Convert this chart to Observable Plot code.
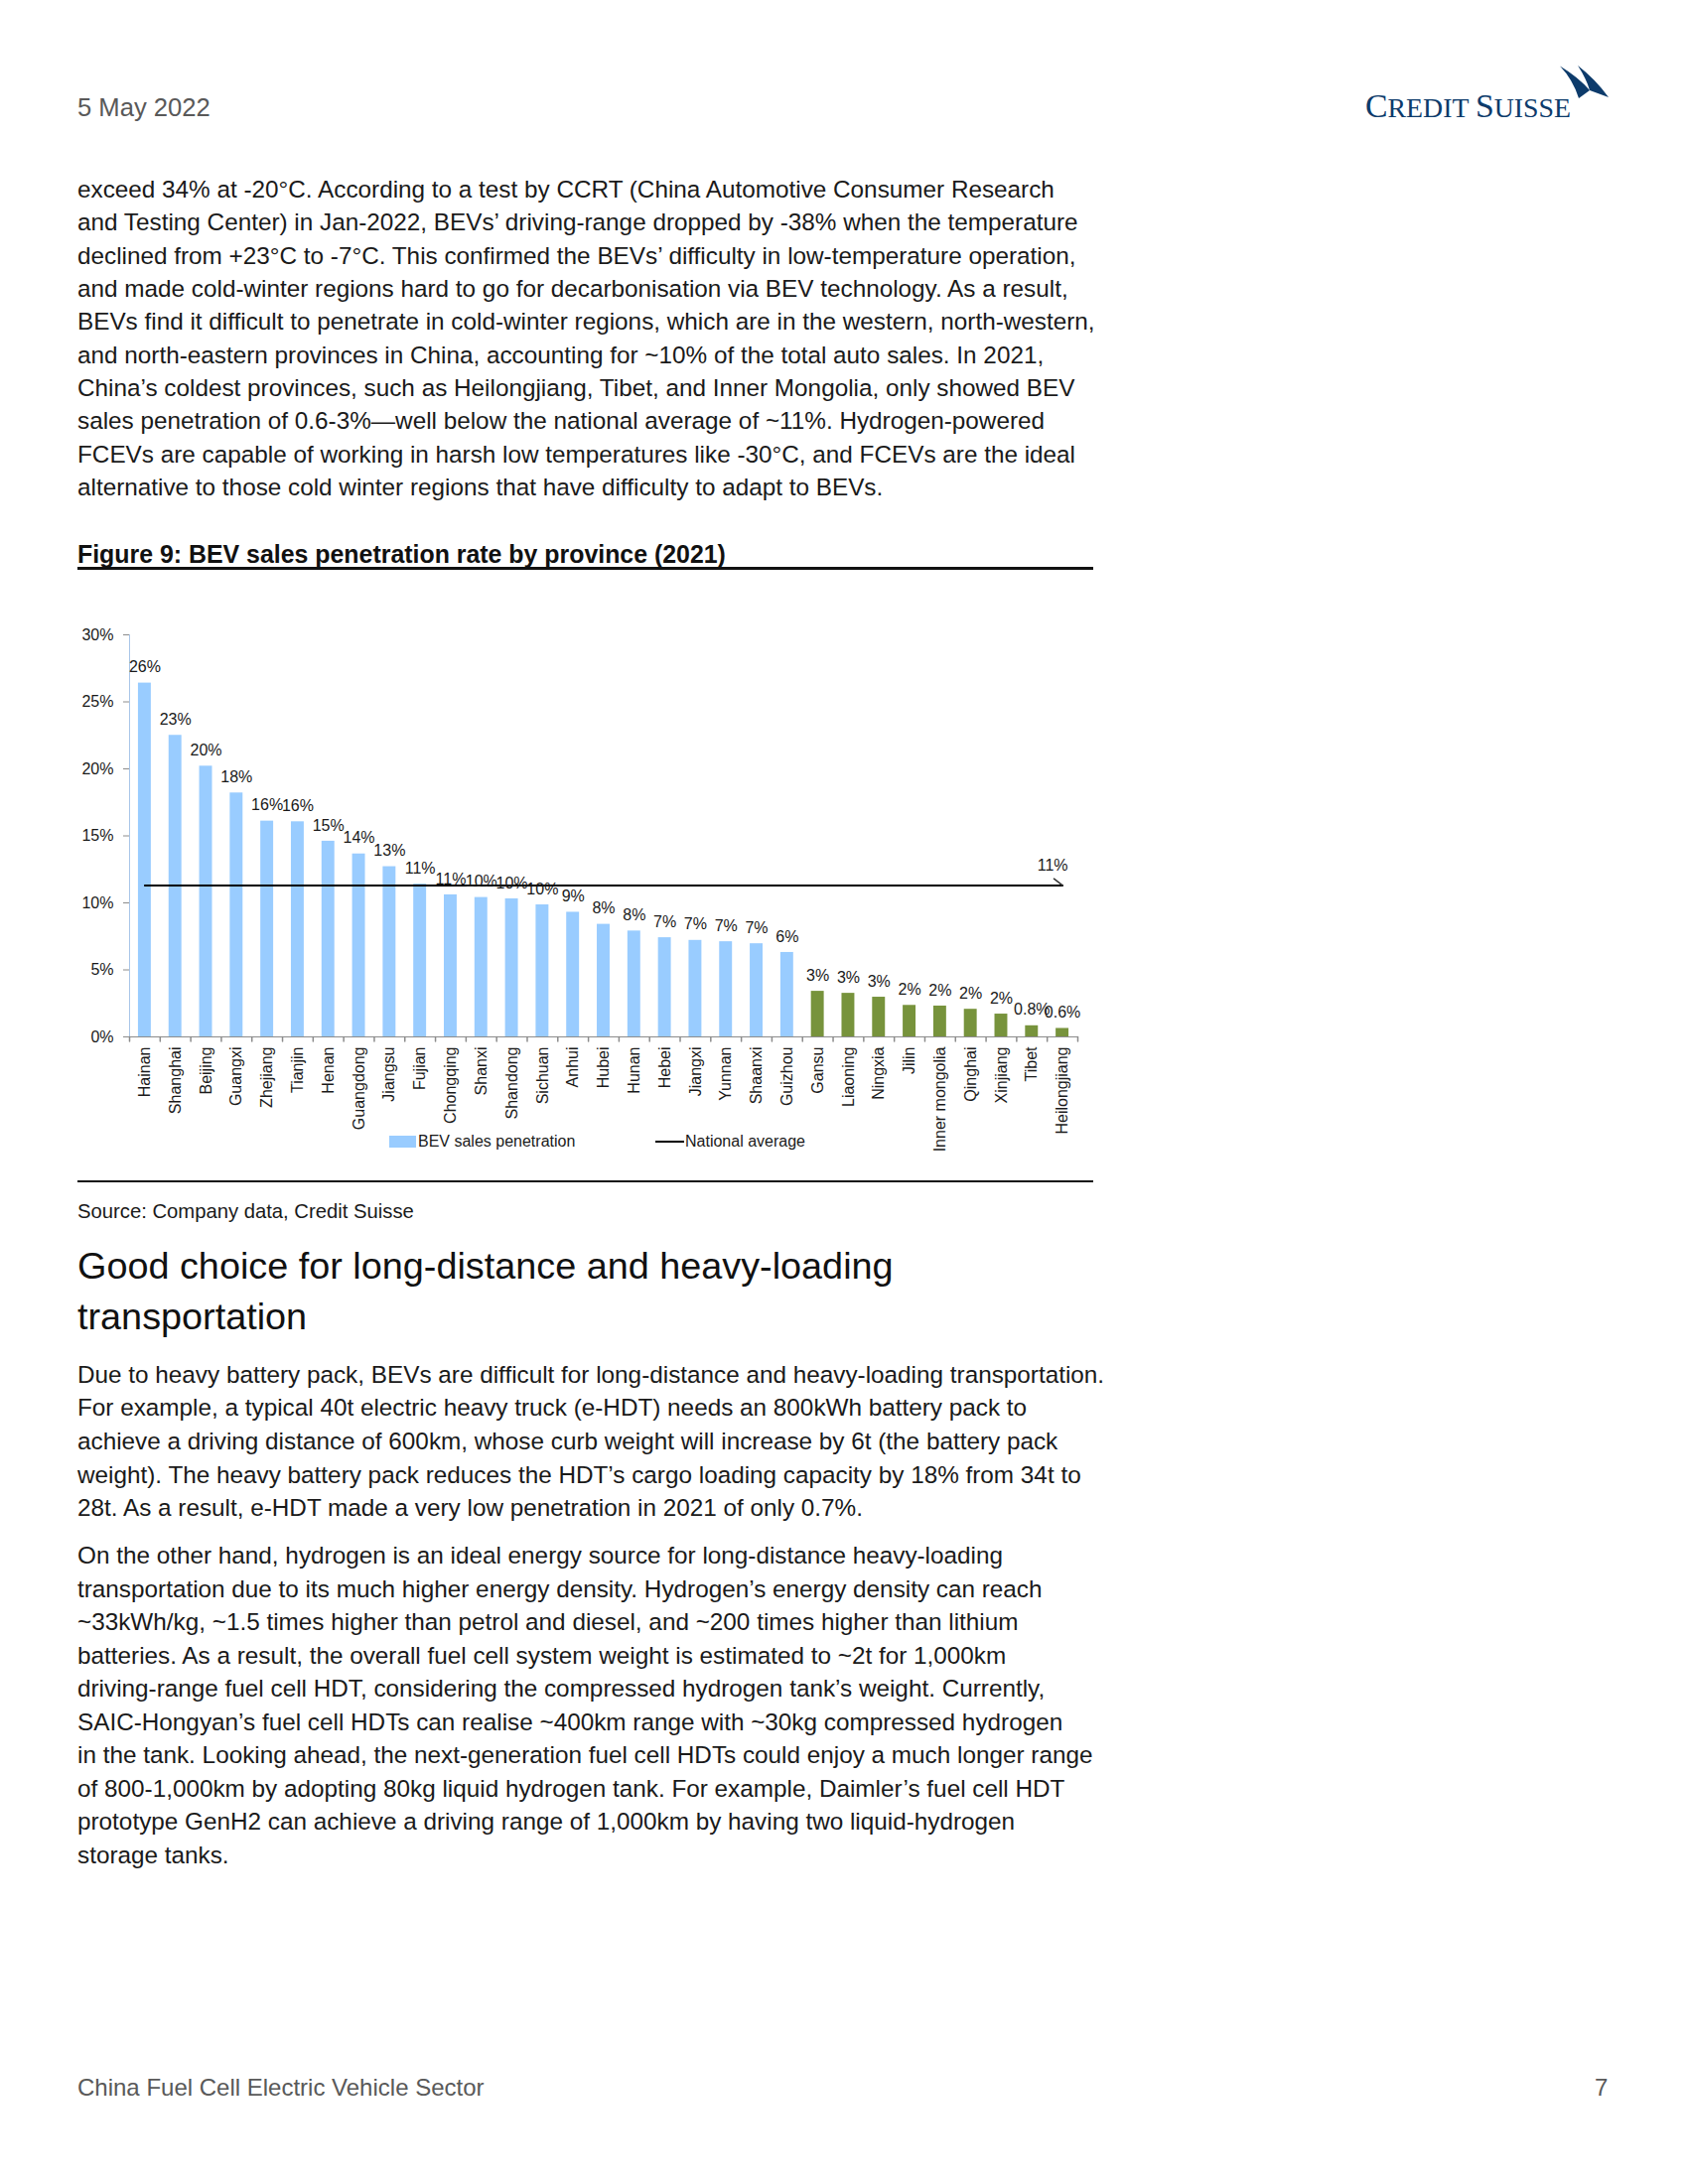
<!DOCTYPE html>
<html><head><meta charset="utf-8">
<script src="https://cdn.jsdelivr.net/npm/d3@7"></script>
<script src="https://cdn.jsdelivr.net/npm/@observablehq/plot@0.6"></script>
<style>
html,body{margin:0;padding:0;background:#fff;}
body{width:1700px;height:2200px;position:relative;font-family:"Liberation Sans",Arial,Helvetica,sans-serif;color:#1a1a1a;overflow:hidden;}
.abs{position:absolute;white-space:nowrap;}
.para{position:absolute;left:78px;font-size:24.3px;line-height:33.5px;white-space:nowrap;color:#1a1a1a;}
</style></head><body>

<div class="abs" style="left:78px;top:93px;font-size:25.6px;line-height:30px;color:#595959;">5 May 2022</div>

<svg class="abs" style="left:1360px;top:55px" width="290" height="80" viewBox="1360 55 290 80">
  <path d="M1571,66.5 Q1590,78 1601,91 L1590,99 Q1584,80 1571,66.5 Z" fill="#0d3b6b"/>
  <path d="M1589,66 Q1607,80 1620,98 L1601,91 Q1598,80 1589,66 Z" fill="#0d3b6b"/>
  <text x="1375" y="118.3" fill="#0d3b6b" font-family="Liberation Serif, DejaVu Serif, serif" textLength="207" lengthAdjust="spacingAndGlyphs"><tspan font-size="34">C</tspan><tspan font-size="28">REDIT </tspan><tspan font-size="34">S</tspan><tspan font-size="28">UISSE</tspan></text>
</svg>

<div class="para" style="top:174px;line-height:33.35px;">exceed 34% at -20°C. According to a test by CCRT (China Automotive Consumer Research<br>and Testing Center) in Jan-2022, BEVs’ driving-range dropped by -38% when the temperature<br>declined from +23°C to -7°C. This confirmed the BEVs’ difficulty in low-temperature operation,<br>and made cold-winter regions hard to go for decarbonisation via BEV technology. As a result,<br>BEVs find it difficult to penetrate in cold-winter regions, which are in the western, north-western,<br>and north-eastern provinces in China, accounting for ~10% of the total auto sales. In 2021,<br>China’s coldest provinces, such as Heilongjiang, Tibet, and Inner Mongolia, only showed BEV<br>sales penetration of 0.6-3%—well below the national average of ~11%. Hydrogen-powered<br>FCEVs are capable of working in harsh low temperatures like -30°C, and FCEVs are the ideal<br>alternative to those cold winter regions that have difficulty to adapt to BEVs.</div>

<div class="abs" style="left:78px;top:543px;font-size:24.9px;line-height:30px;font-weight:bold;color:#111;">Figure 9: BEV sales penetration rate by province (2021)</div>
<div class="abs" style="left:78px;top:571px;width:1023px;height:2.5px;background:#111;"></div>

<div id="chart" class="abs" style="left:60px;top:618px;"></div>

<div class="abs" style="left:392px;top:1144px;width:27px;height:12px;background:#99ccff;"></div>
<div class="abs" style="left:421px;top:1141px;font-size:16px;line-height:18px;color:#1a1a1a;">BEV sales penetration</div>
<div class="abs" style="left:660px;top:1149px;width:29px;height:2px;background:#000;"></div>
<div class="abs" style="left:690px;top:1141px;font-size:16px;line-height:18px;color:#1a1a1a;">National average</div>

<div class="abs" style="left:78px;top:1188.5px;width:1023px;height:2px;background:#111;"></div>
<div class="abs" style="left:78px;top:1205px;font-size:20.25px;line-height:30px;color:#1a1a1a;">Source: Company data, Credit Suisse</div>

<div class="abs" style="left:78px;top:1250px;font-size:37.8px;line-height:50.5px;color:#111;">Good choice for long-distance and heavy-loading<br>transportation</div>

<div class="para" style="top:1367.7px;line-height:33.65px;">Due to heavy battery pack, BEVs are difficult for long-distance and heavy-loading transportation.<br>For example, a typical 40t electric heavy truck (e-HDT) needs an 800kWh battery pack to<br>achieve a driving distance of 600km, whose curb weight will increase by 6t (the battery pack<br>weight). The heavy battery pack reduces the HDT’s cargo loading capacity by 18% from 34t to<br>28t. As a result, e-HDT made a very low penetration in 2021 of only 0.7%.</div>

<div class="para" style="top:1550px;line-height:33.5px;">On the other hand, hydrogen is an ideal energy source for long-distance heavy-loading<br>transportation due to its much higher energy density. Hydrogen’s energy density can reach<br>~33kWh/kg, ~1.5 times higher than petrol and diesel, and ~200 times higher than lithium<br>batteries. As a result, the overall fuel cell system weight is estimated to ~2t for 1,000km<br>driving-range fuel cell HDT, considering the compressed hydrogen tank’s weight. Currently,<br>SAIC-Hongyan’s fuel cell HDTs can realise ~400km range with ~30kg compressed hydrogen<br>in the tank. Looking ahead, the next-generation fuel cell HDTs could enjoy a much longer range<br>of 800-1,000km by adopting 80kg liquid hydrogen tank. For example, Daimler’s fuel cell HDT<br>prototype GenH2 can achieve a driving range of 1,000km by having two liquid-hydrogen<br>storage tanks.</div>

<div class="abs" style="left:78px;top:2087.5px;font-size:24px;line-height:30px;color:#595959;">China Fuel Cell Electric Vehicle Sector</div>
<div class="abs" style="left:1606px;top:2087.5px;font-size:24px;line-height:30px;color:#595959;">7</div>

<script>
const provinces = ["Hainan","Shanghai","Beijing","Guangxi","Zhejiang","Tianjin","Henan","Guangdong","Jiangsu","Fujian","Chongqing","Shanxi","Shandong","Sichuan","Anhui","Hubei","Hunan","Hebei","Jiangxi","Yunnan","Shaanxi","Guizhou","Gansu","Liaoning","Ningxia","Jilin","Inner mongolia","Qinghai","Xinjiang","Tibet","Heilongjiang"];
const bevPenetration = [26.4,22.5,20.2,18.2,16.1,16.05,14.6,13.65,12.7,11.4,10.6,10.4,10.3,9.85,9.3,8.4,7.9,7.4,7.2,7.1,6.95,6.3,3.4,3.25,2.96,2.35,2.3,2.06,1.7,0.83,0.63];
const coldProvinces = ["Gansu","Liaoning","Ningxia","Jilin","Inner mongolia","Qinghai","Xinjiang","Tibet","Heilongjiang"];
const nationalAverage = 11.3;
const yTicks = [0,5,10,15,20,25,30];

const data = provinces.map((p, i) => ({province: p, value: bevPenetration[i], group: coldProvinces.includes(p) ? "cold" : "other"}));
const W = 1040, H = 542, ML = 70, MR = 15, MT = 21, MB = 116;
const step = (W - ML - MR) / provinces.length;
const fmt = v => v < 1 ? v.toFixed(1) + "%" : Math.round(v) + "%";
const stick = {draw(ctx, l) { ctx.moveTo(0, 0); ctx.lineTo(0, -l); }};
const last = provinces[provinces.length - 1];

const chart = Plot.plot({
  width: W, height: H, marginLeft: ML, marginRight: MR, marginTop: MT, marginBottom: MB,
  style: {fontFamily: "Liberation Sans, Arial, sans-serif", fontSize: "16px", color: "#1a1a1a", background: "transparent", overflow: "visible"},
  x: {domain: provinces, paddingInner: 0.58, paddingOuter: 0.29, round: false, label: null},
  y: {domain: [0, 30], label: null},
  color: {domain: ["other", "cold"], range: ["#99ccff", "#77933c"]},
  marks: [
    Plot.barY(data, {x: "province", y: "value", fill: "group"}),
    Plot.ruleY([0], {stroke: "#8c8c8c"}),
    Plot.ruleX([provinces[0]], {y1: 0, y2: 30, dx: -step / 2, stroke: "#a9c6e8"}),
    Plot.vector(provinces, {x: d => d, y: 0, length: 4.5, rotate: 180, anchor: "start", shape: stick, dx: step / 2, stroke: "#8c8c8c"}),
    Plot.vector([provinces[0]], {x: d => d, y: 0, length: 4.5, rotate: 180, anchor: "start", shape: stick, dx: -step / 2, stroke: "#8c8c8c"}),
    Plot.axisY({ticks: yTicks, tickFormat: d => d + "%", tickSize: 6, tickPadding: 10, stroke: "#8c8c8c", fill: "#1a1a1a"}),
    Plot.axisX({tickSize: 0, tickRotate: -90, tickPadding: 10, fill: "#1a1a1a"}),
    Plot.line(provinces, {x: d => d, y: () => nationalAverage, stroke: "#000", strokeWidth: 2}),
    Plot.text(data, {x: "province", y: "value", text: d => fmt(d.value), dy: -16, fill: "#1a1a1a"}),
    Plot.vector([last], {x: d => d, y: nationalAverage, length: 11, rotate: -52, anchor: "start", shape: stick, stroke: "#333"}),
    Plot.text([last], {x: d => d, y: nationalAverage, text: () => fmt(nationalAverage), dx: -10, dy: -20, fill: "#1a1a1a"})
  ]
});
document.getElementById("chart").appendChild(chart);
</script>
</body></html>
